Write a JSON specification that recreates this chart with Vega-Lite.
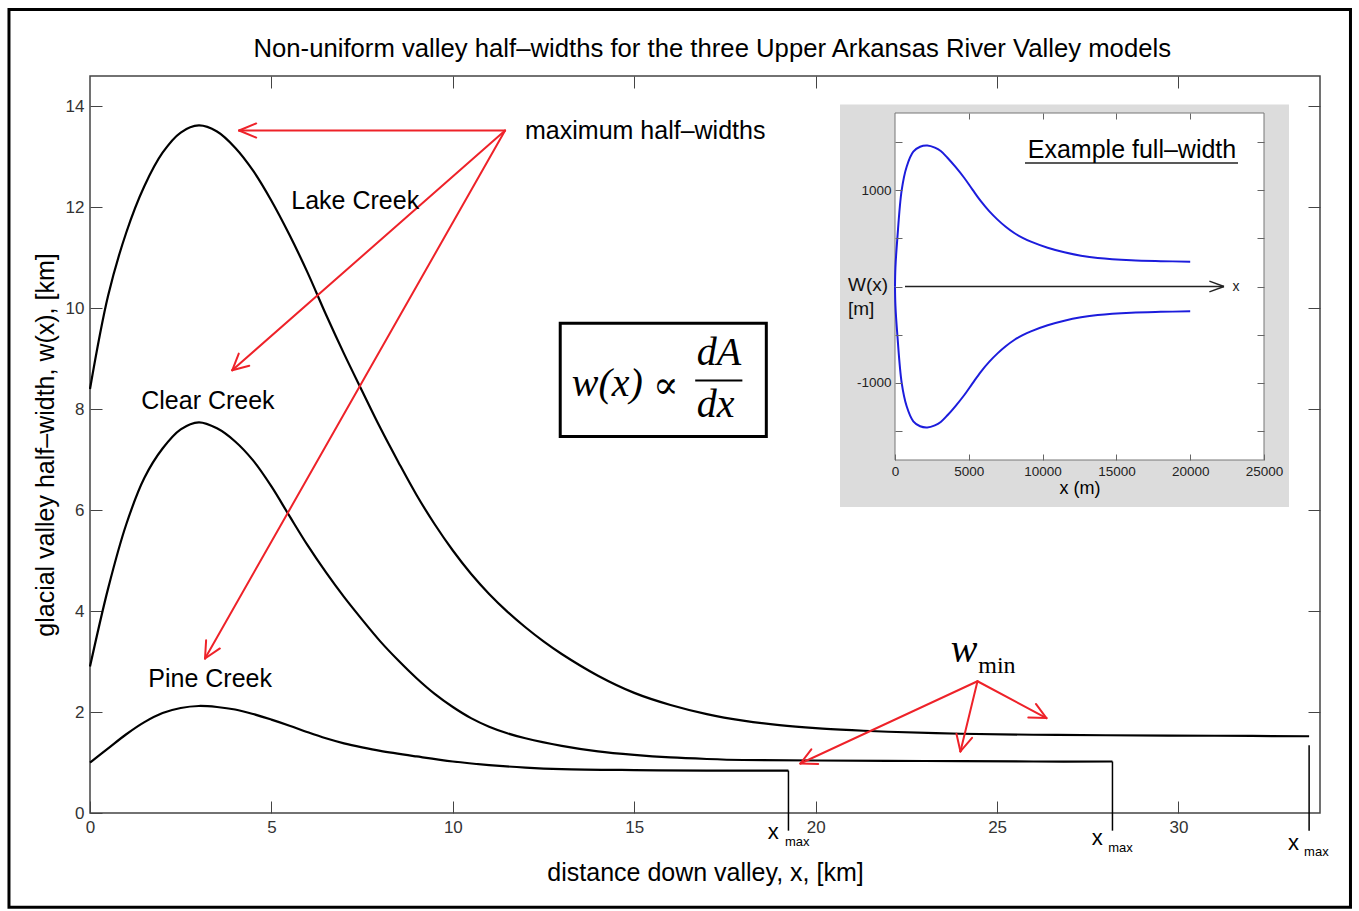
{
  "$schema": "https://vega.github.io/schema/vega-lite/v6.json",
  "width": 1230,
  "height": 737,
  "autosize": {"type": "none"},
  "padding": {"left": 90, "top": 76, "right": 39, "bottom": 98},
  "background": "white",
  "config": {
    "font": "Liberation Sans",
    "view": {"stroke": "#444", "strokeWidth": 1.5},
    "axis": {"grid": false, "domain": false, "labelFlush": false, "zindex": 1, "labelFont": "Liberation Sans", "titleFont": "Liberation Sans", "titleFontWeight": "normal", "tickColor": "#444", "labelColor": "#333", "titleColor": "black"}
  },
  "layer": [
    {
      "layer": [
        {
          "layer": [
            {
              "data": {"values": [{"x": -2.233, "x2": 34.74, "y": 15.915, "y2": -1.867}]},
              "mark": {"type": "rect", "fill": null, "fillOpacity": 0, "stroke": "black", "strokeWidth": 3},
              "encoding": {
                "x": {"field": "x", "type": "quantitative", "scale": {"domain": [0, 33.9], "nice": false, "zero": false},
                  "axis": {"orient": "bottom", "values": [0, 5, 10, 15, 20, 25, 30], "tickSize": -12, "labelPadding": 18, "labelFontSize": 17, "title": "distance down valley, x, [km]", "titleFontSize": 25, "titlePadding": 25}},
                "x2": {"field": "x2"},
                "y": {"field": "y", "type": "quantitative", "scale": {"domain": [0, 14.6], "nice": false, "zero": false},
                  "axis": {"orient": "left", "values": [0, 2, 4, 6, 8, 10, 12, 14], "tickSize": -12, "labelPadding": 18, "labelFontSize": 17, "title": "glacial valley half–width, w(x), [km]", "titleFontSize": 25, "titlePadding": 7}},
                "y2": {"field": "y2"}
              }
            },
            {
              "data": {"values": [{"x": 17.15, "y": 15.14, "t": "Non-uniform valley half–widths for the three Upper Arkansas River Valley models"}]},
              "mark": {"type": "text", "fontSize": 25.7, "align": "center", "baseline": "middle", "color": "black"},
              "encoding": {
                "x": {"field": "x", "type": "quantitative"},
                "y": {"field": "y", "type": "quantitative"},
                "text": {"field": "t"}
              }
            },
            {
              "data": {"values": [
                {"s": "Lake", "x": 0, "y": 8.4}, {"s": "Lake", "x": 0.5, "y": 10.25}, {"s": "Lake", "x": 1.0, "y": 11.5}, {"s": "Lake", "x": 1.5, "y": 12.42}, {"s": "Lake", "x": 2.0, "y": 13.08}, {"s": "Lake", "x": 2.5, "y": 13.48}, {"s": "Lake", "x": 3.0, "y": 13.62}, {"s": "Lake", "x": 3.5, "y": 13.5}, {"s": "Lake", "x": 4.0, "y": 13.18}, {"s": "Lake", "x": 4.5, "y": 12.72}, {"s": "Lake", "x": 5.0, "y": 12.13}, {"s": "Lake", "x": 5.5, "y": 11.45}, {"s": "Lake", "x": 6.0, "y": 10.7}, {"s": "Lake", "x": 6.5, "y": 9.88}, {"s": "Lake", "x": 7.0, "y": 9.1}, {"s": "Lake", "x": 7.5, "y": 8.36}, {"s": "Lake", "x": 8.0, "y": 7.63}, {"s": "Lake", "x": 8.5, "y": 6.95}, {"s": "Lake", "x": 9.0, "y": 6.3}, {"s": "Lake", "x": 9.5, "y": 5.72}, {"s": "Lake", "x": 10.0, "y": 5.2}, {"s": "Lake", "x": 10.5, "y": 4.74}, {"s": "Lake", "x": 11.0, "y": 4.34}, {"s": "Lake", "x": 11.5, "y": 3.99}, {"s": "Lake", "x": 12.0, "y": 3.68}, {"s": "Lake", "x": 12.5, "y": 3.4}, {"s": "Lake", "x": 13.0, "y": 3.15}, {"s": "Lake", "x": 14.0, "y": 2.72}, {"s": "Lake", "x": 15.0, "y": 2.38}, {"s": "Lake", "x": 16.0, "y": 2.14}, {"s": "Lake", "x": 17.0, "y": 1.96}, {"s": "Lake", "x": 18.0, "y": 1.83}, {"s": "Lake", "x": 19.0, "y": 1.74}, {"s": "Lake", "x": 20.0, "y": 1.68}, {"s": "Lake", "x": 21.0, "y": 1.64}, {"s": "Lake", "x": 22.0, "y": 1.61}, {"s": "Lake", "x": 24.0, "y": 1.57}, {"s": "Lake", "x": 26.0, "y": 1.55}, {"s": "Lake", "x": 28.0, "y": 1.54}, {"s": "Lake", "x": 31.0, "y": 1.53}, {"s": "Lake", "x": 33.6, "y": 1.52},
                {"s": "Clear", "x": 0, "y": 2.9}, {"s": "Clear", "x": 0.5, "y": 4.45}, {"s": "Clear", "x": 1.0, "y": 5.72}, {"s": "Clear", "x": 1.5, "y": 6.64}, {"s": "Clear", "x": 2.0, "y": 7.22}, {"s": "Clear", "x": 2.5, "y": 7.6}, {"s": "Clear", "x": 3.0, "y": 7.74}, {"s": "Clear", "x": 3.5, "y": 7.62}, {"s": "Clear", "x": 4.0, "y": 7.36}, {"s": "Clear", "x": 4.5, "y": 6.98}, {"s": "Clear", "x": 5.0, "y": 6.47}, {"s": "Clear", "x": 5.5, "y": 5.88}, {"s": "Clear", "x": 6.0, "y": 5.3}, {"s": "Clear", "x": 6.5, "y": 4.77}, {"s": "Clear", "x": 7.0, "y": 4.28}, {"s": "Clear", "x": 7.5, "y": 3.83}, {"s": "Clear", "x": 8.0, "y": 3.4}, {"s": "Clear", "x": 8.5, "y": 3.02}, {"s": "Clear", "x": 9.0, "y": 2.67}, {"s": "Clear", "x": 9.5, "y": 2.36}, {"s": "Clear", "x": 10.0, "y": 2.1}, {"s": "Clear", "x": 10.5, "y": 1.88}, {"s": "Clear", "x": 11.0, "y": 1.71}, {"s": "Clear", "x": 11.5, "y": 1.58}, {"s": "Clear", "x": 12.0, "y": 1.48}, {"s": "Clear", "x": 13.0, "y": 1.33}, {"s": "Clear", "x": 14.0, "y": 1.22}, {"s": "Clear", "x": 15.0, "y": 1.15}, {"s": "Clear", "x": 16.0, "y": 1.1}, {"s": "Clear", "x": 17.0, "y": 1.07}, {"s": "Clear", "x": 18.0, "y": 1.05}, {"s": "Clear", "x": 20.0, "y": 1.04}, {"s": "Clear", "x": 23.0, "y": 1.03}, {"s": "Clear", "x": 26.0, "y": 1.02}, {"s": "Clear", "x": 28.18, "y": 1.02},
                {"s": "Pine", "x": 0, "y": 1.0}, {"s": "Pine", "x": 0.5, "y": 1.28}, {"s": "Pine", "x": 1.0, "y": 1.56}, {"s": "Pine", "x": 1.5, "y": 1.8}, {"s": "Pine", "x": 2.0, "y": 1.98}, {"s": "Pine", "x": 2.5, "y": 2.08}, {"s": "Pine", "x": 3.0, "y": 2.12}, {"s": "Pine", "x": 3.5, "y": 2.1}, {"s": "Pine", "x": 4.0, "y": 2.05}, {"s": "Pine", "x": 4.5, "y": 1.96}, {"s": "Pine", "x": 5.0, "y": 1.85}, {"s": "Pine", "x": 5.5, "y": 1.73}, {"s": "Pine", "x": 6.0, "y": 1.6}, {"s": "Pine", "x": 6.5, "y": 1.48}, {"s": "Pine", "x": 7.0, "y": 1.38}, {"s": "Pine", "x": 7.5, "y": 1.3}, {"s": "Pine", "x": 8.0, "y": 1.23}, {"s": "Pine", "x": 9.0, "y": 1.12}, {"s": "Pine", "x": 10.0, "y": 1.02}, {"s": "Pine", "x": 11.0, "y": 0.95}, {"s": "Pine", "x": 12.0, "y": 0.9}, {"s": "Pine", "x": 13.0, "y": 0.87}, {"s": "Pine", "x": 15.0, "y": 0.85}, {"s": "Pine", "x": 17.0, "y": 0.84}, {"s": "Pine", "x": 19.25, "y": 0.84}
              ]},
              "mark": {"type": "line", "color": "black", "strokeWidth": 2.2, "interpolate": "catmull-rom"},
              "encoding": {
                "x": {"field": "x", "type": "quantitative"},
                "y": {"field": "y", "type": "quantitative"},
                "detail": {"field": "s", "type": "nominal"}
              }
            },
            {
              "data": {"values": [
                {"x": 11.44, "y": 13.52, "x2": 4.11, "y2": 13.52},
                {"x": 11.44, "y": 13.52, "x2": 3.92, "y2": 8.77},
                {"x": 11.44, "y": 13.52, "x2": 3.17, "y2": 3.06},
                {"x": 24.46, "y": 2.61, "x2": 19.58, "y2": 0.98},
                {"x": 24.46, "y": 2.61, "x2": 23.99, "y2": 1.22},
                {"x": 24.46, "y": 2.61, "x2": 26.36, "y2": 1.88},
                {"x": 4.11, "y": 13.52, "x2": 4.58, "y2": 13.66},
                {"x": 4.11, "y": 13.52, "x2": 4.58, "y2": 13.38},
                {"x": 3.92, "y": 8.77, "x2": 4.39, "y2": 8.86},
                {"x": 3.92, "y": 8.77, "x2": 4.1, "y2": 9.1},
                {"x": 3.17, "y": 3.06, "x2": 3.58, "y2": 3.26},
                {"x": 3.17, "y": 3.06, "x2": 3.2, "y2": 3.42},
                {"x": 19.58, "y": 0.98, "x2": 20.07, "y2": 0.97},
                {"x": 19.58, "y": 0.98, "x2": 19.88, "y2": 1.26},
                {"x": 23.99, "y": 1.22, "x2": 24.31, "y2": 1.49},
                {"x": 23.99, "y": 1.22, "x2": 23.88, "y2": 1.57},
                {"x": 26.36, "y": 1.88, "x2": 25.86, "y2": 1.89},
                {"x": 26.36, "y": 1.88, "x2": 26.07, "y2": 2.16}
              ]},
              "mark": {"type": "rule", "color": "#ee2229", "strokeWidth": 2, "strokeCap": "round"},
              "encoding": {
                "x": {"field": "x", "type": "quantitative"},
                "y": {"field": "y", "type": "quantitative"},
                "x2": {"field": "x2"},
                "y2": {"field": "y2"}
              }
            },
            {
              "data": {"values": [{"x": 12.96, "x2": 18.64, "y": 9.7, "y2": 7.46}]},
              "mark": {"type": "rect", "fill": "white", "stroke": "black", "strokeWidth": 3},
              "encoding": {
                "x": {"field": "x", "type": "quantitative"},
                "x2": {"field": "x2"},
                "y": {"field": "y", "type": "quantitative"},
                "y2": {"field": "y2"}
              }
            },
            {
              "data": {"values": [{"x": 16.68, "x2": 17.98, "y": 8.57}]},
              "mark": {"type": "rule", "color": "black", "strokeWidth": 2},
              "encoding": {
                "x": {"field": "x", "type": "quantitative"},
                "x2": {"field": "x2"},
                "y": {"field": "y", "type": "quantitative"}
              }
            },
            {
              "data": {"values": [
                {"x": 13.28, "y": 8.27, "t": "w(x)"},
                {"x": 16.72, "y": 8.87, "t": "dA"},
                {"x": 16.72, "y": 7.84, "t": "dx"},
                {"x": 23.72, "y": 2.99, "t": "w"}
              ]},
              "mark": {"type": "text", "font": "Liberation Serif", "fontStyle": "italic", "fontSize": 40, "align": "left", "baseline": "alphabetic", "color": "black"},
              "encoding": {
                "x": {"field": "x", "type": "quantitative"},
                "y": {"field": "y", "type": "quantitative"},
                "text": {"field": "t"}
              }
            },
            {
              "data": {"values": [{"x": 15.87, "y": 8.22, "t": "∝"}]},
              "mark": {"type": "text", "font": "DejaVu Serif", "fontSize": 38, "align": "center", "baseline": "alphabetic", "color": "black"},
              "encoding": {
                "x": {"field": "x", "type": "quantitative"},
                "y": {"field": "y", "type": "quantitative"},
                "text": {"field": "t"}
              }
            },
            {
              "data": {"values": [{"x": 24.48, "y": 2.77, "t": "min"}]},
              "mark": {"type": "text", "font": "Liberation Serif", "fontSize": 24, "align": "left", "baseline": "alphabetic", "color": "black"},
              "encoding": {
                "x": {"field": "x", "type": "quantitative"},
                "y": {"field": "y", "type": "quantitative"},
                "text": {"field": "t"}
              }
            },
            {
              "data": {"values": [
                {"x": 7.31, "y": 12.13, "t": "Lake Creek"},
                {"x": 3.25, "y": 8.17, "t": "Clear Creek"},
                {"x": 3.31, "y": 2.65, "t": "Pine Creek"}
              ]},
              "mark": {"type": "text", "fontSize": 25, "align": "center", "baseline": "middle", "color": "black"},
              "encoding": {
                "x": {"field": "x", "type": "quantitative"},
                "y": {"field": "y", "type": "quantitative"},
                "text": {"field": "t"}
              }
            },
            {
              "data": {"values": [{"x": 11.99, "y": 13.52, "t": "maximum half–widths"}]},
              "mark": {"type": "text", "fontSize": 25, "align": "left", "baseline": "middle", "color": "black"},
              "encoding": {
                "x": {"field": "x", "type": "quantitative"},
                "y": {"field": "y", "type": "quantitative"},
                "text": {"field": "t"}
              }
            },
            {
              "data": {"values": [
                {"x": 18.83, "y": -0.38, "t": "x"},
                {"x": 27.76, "y": -0.5, "t": "x"},
                {"x": 33.17, "y": -0.6, "t": "x"}
              ]},
              "mark": {"type": "text", "fontSize": 22, "align": "center", "baseline": "middle", "color": "black"},
              "encoding": {
                "x": {"field": "x", "type": "quantitative"},
                "y": {"field": "y", "type": "quantitative"},
                "text": {"field": "t"}
              }
            },
            {
              "data": {"values": [
                {"x": 19.49, "y": -0.58, "t": "max"},
                {"x": 28.4, "y": -0.7, "t": "max"},
                {"x": 33.8, "y": -0.78, "t": "max"}
              ]},
              "mark": {"type": "text", "fontSize": 13, "align": "center", "baseline": "middle", "color": "black"},
              "encoding": {
                "x": {"field": "x", "type": "quantitative"},
                "y": {"field": "y", "type": "quantitative"},
                "text": {"field": "t"}
              }
            }
          ]
        },
        {
          "data": {"values": [
            {"x": 19.25, "y": 0.84, "y2": -0.35},
            {"x": 28.18, "y": 1.02, "y2": -0.35},
            {"x": 33.6, "y": 1.34, "y2": -0.35}
          ]},
          "mark": {"type": "rule", "color": "black", "strokeWidth": 1.5},
          "encoding": {
            "x": {"field": "x", "type": "quantitative", "axis": {"orient": "top", "values": [5, 10, 15, 20, 25, 30], "labels": false, "tickSize": -12, "title": null}},
            "y": {"field": "y", "type": "quantitative", "axis": {"orient": "right", "values": [2, 4, 6, 8, 10, 12, 14], "labels": false, "tickSize": -12, "title": null}},
            "y2": {"field": "y2"}
          }
        }
      ],
      "resolve": {"scale": {"x": "shared", "y": "shared"}, "axis": {"x": "independent", "y": "independent"}}
    },
    {
      "layer": [
        {
          "layer": [
            {
              "data": {"values": [{"x": -3726, "x2": 26693, "y": 1889, "y2": -2287}]},
              "mark": {"type": "rect", "fill": "#dcdcdc", "stroke": null},
              "encoding": {
                "x": {"field": "x", "type": "quantitative", "scale": {"domain": [0, 25000], "range": [805, 1174], "nice": false, "zero": false},
                  "axis": {"orient": "bottom", "offset": -353, "zindex": 2, "values": [0, 5000, 10000, 15000, 20000, 25000], "format": "d", "tickSize": -6, "tickColor": "#666", "labelPadding": 10, "labelFontSize": 13.5, "labelColor": "#222", "title": "x (m)", "titleFontSize": 18, "titlePadding": 2}},
                "x2": {"field": "x2"},
                "y": {"field": "y", "type": "quantitative", "scale": {"domain": [-1800, 1800], "range": [384, 37], "nice": false, "zero": false},
                  "axis": {"orient": "left", "offset": -805, "zindex": 2, "values": [-1500, -1000, -500, 0, 500, 1000, 1500], "labelExpr": "datum.value == 1000 ? '1000' : (datum.value == -1000 ? '-1000' : '')", "tickSize": -7, "tickColor": "#666", "labelPadding": 11, "labelFontSize": 13.5, "labelColor": "#222", "title": null}},
                "y2": {"field": "y2"}
              }
            },
            {
              "data": {"values": [{"x": 0, "x2": 25000, "y": -1800, "y2": 1800}]},
              "mark": {"type": "rect", "fill": "white", "stroke": "#777", "strokeWidth": 1},
              "encoding": {
                "x": {"field": "x", "type": "quantitative"},
                "x2": {"field": "x2"},
                "y": {"field": "y", "type": "quantitative"},
                "y2": {"field": "y2"}
              }
            },
            {
              "data": {"values": [
                {"x": 678, "y": 0, "x2": 22290, "y2": 0},
                {"x": 22290, "y": 0, "x2": 21300, "y2": 55},
                {"x": 22290, "y": 0, "x2": 21300, "y2": -55},
                {"x": 8808, "y": 1281, "x2": 23238, "y2": 1281}
              ]},
              "mark": {"type": "rule", "color": "#222", "strokeWidth": 1.4},
              "encoding": {
                "x": {"field": "x", "type": "quantitative"},
                "y": {"field": "y", "type": "quantitative"},
                "x2": {"field": "x2"},
                "y2": {"field": "y2"}
              }
            },
            {
              "data": {"values": [
                {"s": "upper", "x": 0, "y": 0}, {"s": "upper", "x": 30, "y": 200}, {"s": "upper", "x": 158, "y": 500}, {"s": "upper", "x": 453, "y": 1000}, {"s": "upper", "x": 790, "y": 1243}, {"s": "upper", "x": 1240, "y": 1399}, {"s": "upper", "x": 1700, "y": 1450}, {"s": "upper", "x": 2190, "y": 1462}, {"s": "upper", "x": 2700, "y": 1440}, {"s": "upper", "x": 3100, "y": 1405}, {"s": "upper", "x": 3553, "y": 1336}, {"s": "upper", "x": 4100, "y": 1240}, {"s": "upper", "x": 4684, "y": 1128}, {"s": "upper", "x": 5250, "y": 1005}, {"s": "upper", "x": 5815, "y": 885}, {"s": "upper", "x": 6380, "y": 782}, {"s": "upper", "x": 6947, "y": 694}, {"s": "upper", "x": 7500, "y": 620}, {"s": "upper", "x": 8078, "y": 555}, {"s": "upper", "x": 8650, "y": 505}, {"s": "upper", "x": 9210, "y": 465}, {"s": "upper", "x": 10341, "y": 402}, {"s": "upper", "x": 11472, "y": 355}, {"s": "upper", "x": 12600, "y": 320}, {"s": "upper", "x": 13736, "y": 296}, {"s": "upper", "x": 16000, "y": 272}, {"s": "upper", "x": 18000, "y": 263}, {"s": "upper", "x": 20000, "y": 258},
                {"s": "lower", "x": 0, "y": 0}, {"s": "lower", "x": 30, "y": -200}, {"s": "lower", "x": 158, "y": -500}, {"s": "lower", "x": 453, "y": -1000}, {"s": "lower", "x": 790, "y": -1243}, {"s": "lower", "x": 1240, "y": -1399}, {"s": "lower", "x": 1700, "y": -1450}, {"s": "lower", "x": 2190, "y": -1462}, {"s": "lower", "x": 2700, "y": -1440}, {"s": "lower", "x": 3100, "y": -1405}, {"s": "lower", "x": 3553, "y": -1336}, {"s": "lower", "x": 4100, "y": -1240}, {"s": "lower", "x": 4684, "y": -1128}, {"s": "lower", "x": 5250, "y": -1005}, {"s": "lower", "x": 5815, "y": -885}, {"s": "lower", "x": 6380, "y": -782}, {"s": "lower", "x": 6947, "y": -694}, {"s": "lower", "x": 7500, "y": -620}, {"s": "lower", "x": 8078, "y": -555}, {"s": "lower", "x": 8650, "y": -505}, {"s": "lower", "x": 9210, "y": -465}, {"s": "lower", "x": 10341, "y": -402}, {"s": "lower", "x": 11472, "y": -355}, {"s": "lower", "x": 12600, "y": -320}, {"s": "lower", "x": 13736, "y": -296}, {"s": "lower", "x": 16000, "y": -272}, {"s": "lower", "x": 18000, "y": -263}, {"s": "lower", "x": 20000, "y": -258}
              ]},
              "mark": {"type": "line", "color": "#1c1cdc", "strokeWidth": 2, "interpolate": "catmull-rom"},
              "encoding": {
                "x": {"field": "x", "type": "quantitative"},
                "y": {"field": "y", "type": "quantitative"},
                "detail": {"field": "s", "type": "nominal"},
                "order": {"field": "x", "type": "quantitative"}
              }
            },
            {
              "data": {"values": [{"x": 16057, "y": 1416, "t": "Example full–width"}]},
              "mark": {"type": "text", "fontSize": 25, "align": "center", "baseline": "middle", "color": "black"},
              "encoding": {
                "x": {"field": "x", "type": "quantitative"},
                "y": {"field": "y", "type": "quantitative"},
                "text": {"field": "t"}
              }
            },
            {
              "data": {"values": [
                {"x": -3184, "y": 16, "t": "W(x)"},
                {"x": -3184, "y": -233, "t": "[m]"}
              ]},
              "mark": {"type": "text", "fontSize": 19, "align": "left", "baseline": "middle", "color": "#111"},
              "encoding": {
                "x": {"field": "x", "type": "quantitative"},
                "y": {"field": "y", "type": "quantitative"},
                "text": {"field": "t"}
              }
            },
            {
              "data": {"values": [{"x": 23103, "y": 0, "t": "x"}]},
              "mark": {"type": "text", "fontSize": 14, "align": "center", "baseline": "middle", "color": "#222"},
              "encoding": {
                "x": {"field": "x", "type": "quantitative"},
                "y": {"field": "y", "type": "quantitative"},
                "text": {"field": "t"}
              }
            }
          ]
        },
        {
          "data": {"values": [{"x": 0, "y": 0}]},
          "mark": {"type": "point", "opacity": 0},
          "encoding": {
            "x": {"field": "x", "type": "quantitative", "axis": {"orient": "top", "offset": -37, "zindex": 2, "values": [5000, 10000, 15000, 20000], "labels": false, "tickSize": -6, "tickColor": "#666", "title": null}},
            "y": {"field": "y", "type": "quantitative", "axis": {"orient": "right", "offset": -56, "zindex": 2, "values": [-1500, -1000, -500, 0, 500, 1000, 1500], "labels": false, "tickSize": -7, "tickColor": "#666", "title": null}}
          }
        }
      ],
      "resolve": {"scale": {"x": "shared", "y": "shared"}, "axis": {"x": "independent", "y": "independent"}}
    }
  ],
  "resolve": {"scale": {"x": "independent", "y": "independent"}}
}
